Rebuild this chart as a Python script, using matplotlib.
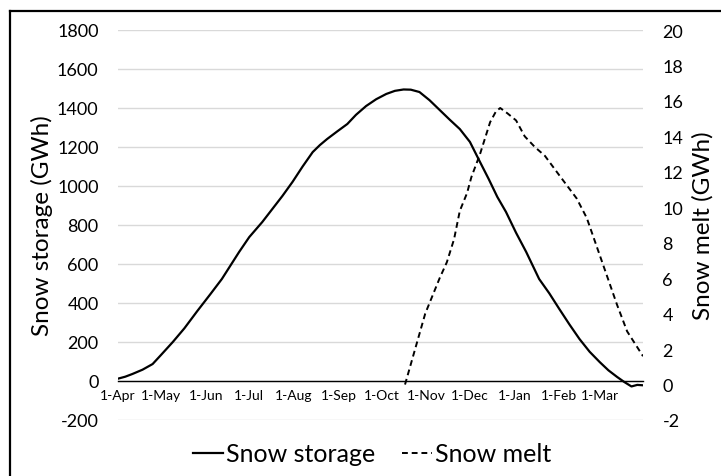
import matplotlib
matplotlib.use("Agg")
import matplotlib.pyplot as plt
from matplotlib.lines import Line2D

plt.rcParams['font.family'] = ['Lato', 'DejaVu Sans']
plt.rcParams['axes.unicode_minus'] = False

# days counted from 1-Apr
storage_day = [0, 5, 10, 17, 24, 30, 38, 46, 55, 64, 72, 84, 91, 100, 107, 114, 121,
               128, 135, 140, 145, 152, 159, 165, 172, 179, 186, 192, 198, 203, 209,
               216, 223, 230, 237, 244, 251, 257, 263, 269, 276, 283, 292, 299, 306,
               313, 320, 327, 334, 340, 346, 351, 356, 360, 364]
storage_gwh = [12, 22, 36, 58, 87, 135, 200, 270, 359, 445, 523, 662, 738, 815, 882,
               949, 1021, 1100, 1174, 1210, 1241, 1280, 1318, 1365, 1410, 1445, 1472,
               1488, 1495, 1494, 1482, 1440, 1390, 1340, 1292, 1226, 1123, 1036, 944,
               867, 760, 662, 523, 450, 369, 290, 215, 150, 97, 55, 21, -5, -28, -20,
               -22]

melt_day = [199, 206, 213, 223, 228, 233, 237, 242, 245, 251, 258, 262, 265, 270, 276,
            282, 289, 296, 306, 318, 325, 334, 340, 346, 353, 364]
melt_gwh = [0, 2.0, 4.0, 6.0, 6.9, 8.2, 9.8, 10.8, 11.7, 13.0, 14.8, 15.4, 15.6, 15.3,
            14.9, 14.0, 13.4, 12.9, 11.8, 10.5, 9.4, 7.3, 5.9, 4.5, 3.0, 1.6]

month_day = [0, 30, 61, 91, 122, 153, 183, 214, 244, 275, 306, 334]
month_lbl = ['1-Apr', '1-May', '1-Jun', '1-Jul', '1-Aug', '1-Sep', '1-Oct', '1-Nov',
             '1-Dec', '1-Jan', '1-Feb', '1-Mar']

W, H = 721, 477
fig = plt.figure(figsize=(W / 100, H / 100), dpi=100)
ax = fig.add_axes([118 / W, 1 - 421 / H, 525 / W, 390 / H])
ax2 = ax.twinx()

l1, = ax.plot(storage_day, storage_gwh, color='black', lw=1.6,
              solid_joinstyle='round')
l2, = ax2.plot(melt_day, melt_gwh, color='black', lw=1.4, ls=(0, (3, 2)))

ax.set_xlim(0, 364)
ax.set_ylim(-200, 1800)
ax2.set_ylim(-2, 20)
ax.set_yticks(range(-200, 1801, 200))
ax2.set_yticks(range(-2, 21, 2))
ax.set_xticks(month_day)
ax.set_xticklabels(month_lbl, fontsize=10.5)

ax.grid(axis='y', color='#d9d9d9', lw=1)
ax.set_axisbelow(True)
for a in (ax, ax2):
    for s in ('top', 'right', 'left', 'bottom'):
        a.spines[s].set_visible(False)
ax.spines['bottom'].set_visible(True)
ax.spines['bottom'].set_position(('data', 0))
ax.spines['bottom'].set_linewidth(1.0)

ax.tick_params(axis='x', length=0, pad=6)
ax.tick_params(axis='y', length=0, labelsize=13, pad=14)
ax2.tick_params(axis='y', length=0, labelsize=13, pad=14)

ax.set_ylabel('Snow storage (GWh)', fontsize=17.5)
ax.yaxis.set_label_coords(-0.124, 0.5)
ax2.set_ylabel('Snow melt (GWh)', fontsize=17.5)
ax2.yaxis.set_label_coords(1.094, 0.5)

fig.legend([l1, l2], ['Snow storage', 'Snow melt'], loc='center',
           bbox_to_anchor=(372 / W, 1 - 455 / H), ncol=2, frameon=False,
           fontsize=18, handlelength=1.2, handletextpad=0.1, columnspacing=1.1)

# outer border (clipped at right and bottom like the source)
fig.add_artist(Line2D([10 / W, 10 / W], [0, 1 - 12 / H], color='black', lw=1.6,
                      transform=fig.transFigure))
fig.add_artist(Line2D([10 / W, 1], [1 - 12 / H, 1 - 12 / H], color='black', lw=1.6,
                      transform=fig.transFigure))

fig.savefig('out.png', dpi=100)
